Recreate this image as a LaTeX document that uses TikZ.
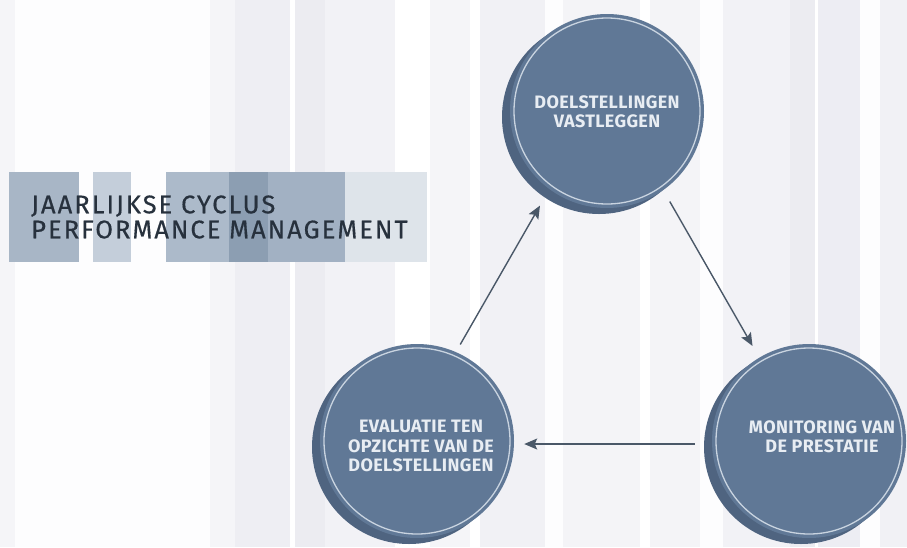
\documentclass[tikz,border=0pt]{standalone}
\usepackage{fontspec}
\usetikzlibrary{arrows.meta}
\newfontfamily\titlefont[LetterSpace=8, FakeBold=0.5]{Fira Sans}
\newfontfamily\stagefont[LetterSpace=2]{Fira Sans}
\definecolor{stagefront}{HTML}{607896}
\definecolor{stageback}{HTML}{4F6480}
\definecolor{stagering}{HTML}{C9D4E0}
\definecolor{stagetext}{HTML}{E8EDF3}
\definecolor{cyclegray}{HTML}{4A5868}
\definecolor{titletext}{HTML}{27313D}
\definecolor{curtain}{HTML}{DCDCE6}
\tikzstyle{stage}=[circle, fill=stagefront, minimum size=194pt, inner sep=0]
\tikzstyle{stage back}=[circle, fill=stageback, minimum size=194pt, inner sep=0]
\tikzstyle{stage ring}=[circle, draw=stagering, line width=1.3pt, minimum size=186pt, inner sep=0]
\tikzstyle{phantom stage}=[circle, minimum size=202pt, inner sep=0]
\tikzstyle{stage text}=[text=stagetext, align=center, inner sep=0,
  font=\stagefont\bfseries\fontsize{18}{19.5}\selectfont]
\tikzstyle{cycle}=[draw=cyclegray, line width=1.4pt,
  -{Stealth[length=13pt, width=11pt, inset=2.5pt]}, shorten <=9pt, shorten >=10pt]

\begin{document}
\begin{tikzpicture}[x=1pt, y=-1pt]
          \useasboundingbox (0,0) rectangle (907,547);
          \clip (0,0) rectangle (907,547);

          % curtain background
          \fill[curtain!30] (0,0) rectangle (907,547);
          \foreach \xa/\xb/\shade in {15/210/5, 210/235/30, 235/290/48, 290/295/0,
              295/325/55, 325/395/38, 395/430/0, 430/470/28, 470/480/0, 480/545/40,
              545/563/5, 563/640/32, 640/650/0, 650/700/32, 700/723/5,
              723/790/38, 790/815/55, 815/818/0, 818/860/50, 860/880/5, 880/907/40}
            \fill[curtain!\shade] (\xa,0) rectangle (\xb,547);

          % title
          \fill[fill={rgb,255:red,168;green,182;blue,198}] (9,172) rectangle (79,262);
          \fill[fill={rgb,255:red,196;green,206;blue,218}] (93,172) rectangle (131,262);
          \fill[fill={rgb,255:red,172;green,186;blue,202}] (166,172) rectangle (229,262);
          \fill[fill={rgb,255:red,140;green,158;blue,178}] (229,172) rectangle (268,262);
          \fill[fill={rgb,255:red,162;green,177;blue,195}] (268,172) rectangle (345,262);
          \fill[fill={rgb,255:red,222;green,228;blue,234}] (345,172) rectangle (427,262);
          \node[anchor=west, align=left, inner sep=0, text=titletext,
            font=\titlefont\fontsize{25.5}{25}\selectfont] (titel) at (31,217)
            {JAARLIJKSE CYCLUS\\PERFORMANCE MANAGEMENT};

          % the three stages
          \node[phantom stage] (doelc) at (603,114) {};
          \node[phantom stage] (monc) at (805,444) {};
          \node[phantom stage] (evalc) at (413,444) {};
          \foreach \c in {doelc, monc, evalc} {
            \node[stage back] at ([shift={(-4,3)}]\c.center) {};
            \node[stage] (\c front) at ([shift={(4,-3)}]\c.center) {};
            \node[stage ring] at (\c front.center) {};
          }
          \node[stage text] (doel) at (607,112) {DOELSTELLINGEN\\VASTLEGGEN};
          \node[stage text] (mon) at (822,437) {MONITORING VAN\\DE PRESTATIE};
          \node[stage text] (eval) at (421,446) {EVALUATIE TEN\\OPZICHTE VAN DE\\DOELSTELLINGEN};

          \draw[cycle] (evalc.65) -- (doelc.235);
          \draw[cycle] (doelc.-52) -- (monc.118);
          \draw[cycle] (monc.180) -- (evalc.0);
        \end{tikzpicture}
\end{document}
